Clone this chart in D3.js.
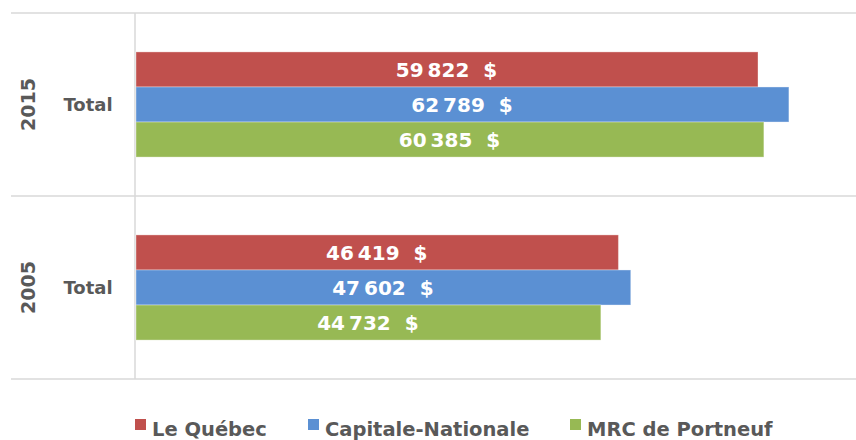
<!DOCTYPE html>
<html>
<head>
<meta charset="utf-8">
<script src="https://cdn.jsdelivr.net/npm/d3@7"></script>
<style>
body{margin:0;background:#fff;}
svg{display:block;font-family:"DejaVu Sans",sans-serif;}
</style>
</head>
<body>
<svg id="chart" width="856" height="440"></svg>
<script>
// données
var years = ["2015","2005"];
var series = ["Le Québec","Capitale-Nationale","MRC de Portneuf"];
var colors = ["#C0504D","#5B90D3","#97B954"];
var values2015 = [59822,62789,60385];
var values2005 = [46419,47602,44732];
var valuesByYear = [values2015,values2005];

var svg = d3.select("#chart");
var plotLeft = 135, plotTop = 13, plotBottom = 379, plotRight = 864;

var x = d3.scaleLinear().domain([0,70000]).range([plotLeft,plotRight]);
var y = d3.scaleBand().domain(years).range([plotTop,plotBottom]);
var yInner = d3.scaleBand().domain(series).range([0,y.bandwidth()]).paddingOuter(1.11).paddingInner(0);

var fmt = function(v){ return d3.format(",")(v).replace(",", "\u2009") + "  $"; };

// grille horizontale
var lines = [plotTop].concat(years.map(function(d){ return y(d)+y.bandwidth(); }));
svg.selectAll("line.grid").data(lines).enter().append("line")
	.attr("x1",11).attr("x2",856)
	.attr("y1",function(d){return d;}).attr("y2",function(d){return d;})
	.attr("stroke","#d9d9d9").attr("stroke-width",1.5);

svg.append("line").attr("x1",plotLeft).attr("x2",plotLeft).attr("y1",plotTop).attr("y2",plotBottom)
	.attr("stroke","#d9d9d9").attr("stroke-width",1.5);

// barres
years.forEach(function(yr,gi){
	var g = svg.append("g").attr("transform","translate(0,"+y(yr)+")");
	g.selectAll("rect").data(valuesByYear[gi]).enter().append("rect")
		.attr("x",x(0)+1)
		.attr("y",function(d,i){return yInner(series[i]);})
		.attr("width",function(d){return x(d)-x(0)-1;})
		.attr("height",yInner.bandwidth())
		.attr("fill",function(d,i){return colors[i];})
		.attr("stroke","rgba(255,255,255,0.35)").attr("stroke-width",1);
	g.selectAll("text.val").data(valuesByYear[gi]).enter().append("text")
		.attr("x",function(d){return (x(0)+x(d))/2;})
		.attr("y",function(d,i){return yInner(series[i])+yInner.bandwidth()/2;})
		.attr("dy","0.36em")
		.attr("text-anchor","middle")
		.attr("fill","#fff").attr("font-weight","bold").attr("font-size",20)
		.style("white-space","pre")
		.text(function(d){return fmt(d);});
	// étiquettes
	var cy = y(yr)+y.bandwidth()/2;
	svg.append("text").attr("x",88).attr("y",cy).attr("dy","0.36em")
		.attr("text-anchor","middle").attr("fill","#595959")
		.attr("font-weight","bold").attr("font-size",18).text("Total");
	svg.append("text").attr("transform","translate(28,"+cy+") rotate(-90)")
		.attr("dy","0.36em").attr("text-anchor","middle").attr("fill","#595959")
		.attr("font-weight","bold").attr("font-size",19).text(yr);
});

// légende
var legendX = [135,308,570];
series.forEach(function(s,i){
	svg.append("rect").attr("x",legendX[i]).attr("y",419).attr("width",11).attr("height",11).attr("fill",colors[i]);
	svg.append("text").attr("x",legendX[i]+17).attr("y",436)
		.attr("fill","#595959").attr("font-weight","bold").attr("font-size",19.5).text(s);
});
</script>
</body>
</html>
